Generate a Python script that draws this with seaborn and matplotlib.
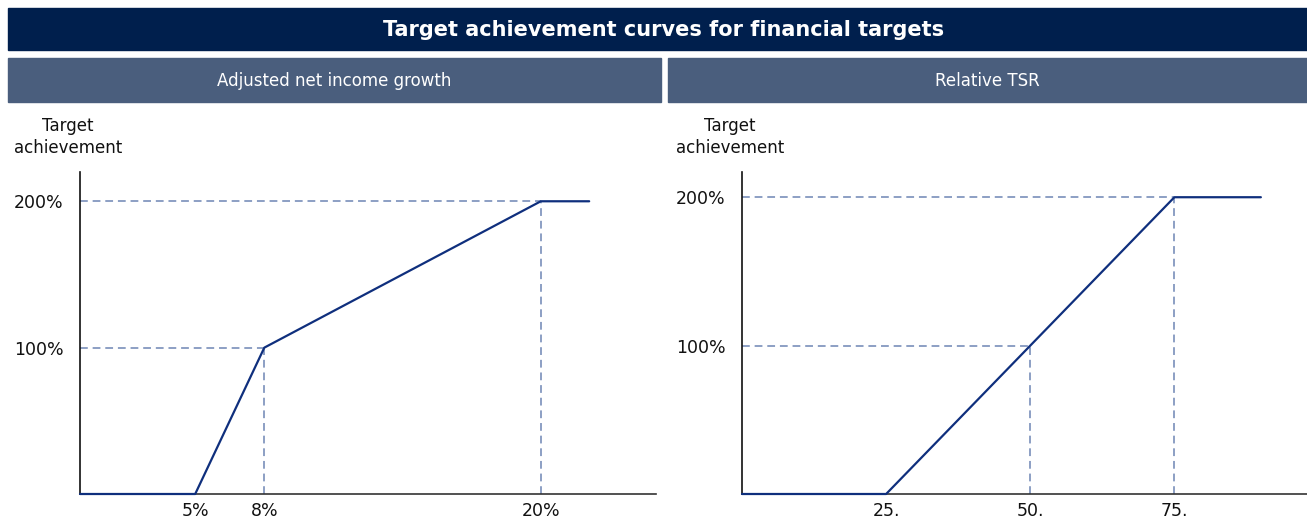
import matplotlib
matplotlib.use("Agg")
import matplotlib.pyplot as plt
from matplotlib.patches import Rectangle
import seaborn as sns
import pandas as pd

# Target achievement curves
title = "Target achievement curves for financial targets"
panel_titles = ["Adjusted net income growth", "Relative TSR"]

growth_x = [0, 5, 8, 20, 22.1]
growth_y = [0, 0, 100, 200, 200]
growth_ticks = [5, 8, 20]
growth_ticklabels = ["5%", "8%", "20%"]
growth_refs = [(8, 100), (20, 200)]

tsr_x = [0, 25, 50, 75, 90]
tsr_y = [0, 0, 100, 200, 200]
tsr_ticks = [25, 50, 75]
tsr_ticklabels = ["25.", "50.", "75."]
tsr_refs = [(50, 100), (75, 200)]

y_ticks = [100, 200]
y_ticklabels = ["100%", "200%"]

sns.set_theme(style="white")
plt.rcParams["font.family"] = ["DejaVu Sans"]

W, H = 1307, 520
fig = plt.figure(figsize=(W / 100, H / 100), dpi=100)

NAVY = "#001f4d"
SLATE = "#4a5e7d"
LINE = "#0f2f7d"
REF = "#8c9fc4"


def box(x0, y0, x1, y1):
    return [x0 / W, 1 - y1 / H, (x1 - x0) / W, (y1 - y0) / H]


def band(x0, y0, x1, y1, color, text, cx=None, **kw):
    fig.patches.append(Rectangle((x0 / W, 1 - y1 / H), (x1 - x0) / W, (y1 - y0) / H,
                                 transform=fig.transFigure, color=color, zorder=0))
    cx = (x0 + x1) / 2 if cx is None else cx
    fig.text(cx / W, 1 - (y0 + y1 + 2) / 2 / H, text, color="white",
             ha="center", va="center", **kw)


band(8, 8, 1307, 50, NAVY, title, cx=664, fontsize=15, fontweight="bold")
band(8, 58, 661, 102, SLATE, panel_titles[0], fontsize=12)
band(668, 58, 1307, 102, SLATE, panel_titles[1], fontsize=12)

panels = [
    (box(80, 172, 656, 494), growth_x, growth_y, growth_ticks, growth_ticklabels,
     growth_refs, (0, 25), (0, 220)),
    (box(742, 172, 1307, 494), tsr_x, tsr_y, tsr_ticks, tsr_ticklabels,
     tsr_refs, (0, 98), (0, 217)),
]

for rect, xs, ys, xt, xtl, refs, xlim, ylim in panels:
    ax = fig.add_axes(rect)
    ax.set_facecolor("none")
    for rx, ry in refs:
        ax.plot([xlim[0], rx], [ry, ry], color=REF, lw=1.4, ls=(0, (4, 2.5)), zorder=1)
        ax.plot([rx, rx], [ylim[0], ry], color=REF, lw=1.4, ls=(0, (4, 2.5)), zorder=1)
    df = pd.DataFrame({"x": xs, "y": ys})
    sns.lineplot(data=df, x="x", y="y", ax=ax, color=LINE, lw=1.6, sort=False,
                 zorder=4, clip_on=False)
    ax.set_xlim(*xlim)
    ax.set_ylim(*ylim)
    ax.set_xticks(xt)
    ax.set_xticklabels(xtl)
    ax.set_yticks(y_ticks)
    ax.set_yticklabels(y_ticklabels)
    ax.tick_params(axis="both", length=0, labelsize=12.5, colors="#111111")
    ax.tick_params(axis="x", pad=6)
    ax.tick_params(axis="y", pad=12)
    ax.set_xlabel("")
    ax.set_ylabel("")
    for s in ["top", "right"]:
        ax.spines[s].set_visible(False)
    ax.spines["left"].set_color("#111111")
    ax.spines["bottom"].set_color("#333333")
    ax.spines["left"].set_linewidth(1.2)
    ax.spines["bottom"].set_linewidth(1.2)
    ax.text(-12 / (rect[2] * W), 1 + 35 / (rect[3] * H), "Target\nachievement",
            transform=ax.transAxes, ha="center", va="center", fontsize=12,
            color="#111111", linespacing=1.25)

fig.savefig("out.png", dpi=100)
